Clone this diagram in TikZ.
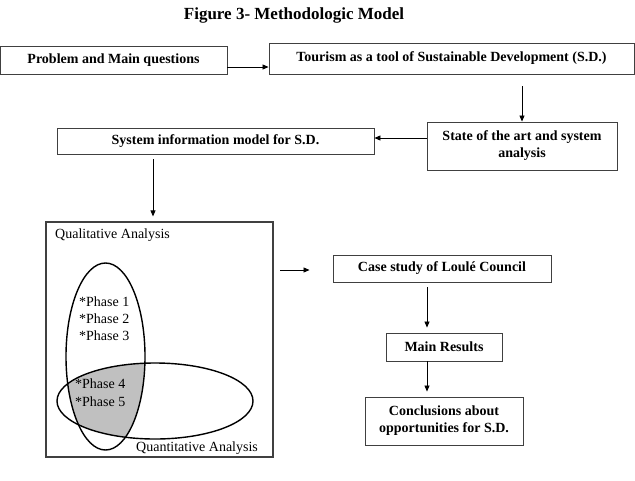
\documentclass[tikz,border=0pt]{standalone}
\usepackage{fontspec}
\setmainfont{Liberation Serif}
\usetikzlibrary{arrows.meta}
\definecolor{boxgray}{HTML}{404040}
\definecolor{overlap}{HTML}{C0C0C0}
\begin{document}
\begin{tikzpicture}[x=1pt,y=-1pt,
  box/.style={draw=boxgray,line width=0.9pt,inner sep=0pt,font=\fontsize{14}{17}\selectfont\bfseries,align=center},
  arr/.style={-{Triangle[length=6pt,width=5pt]},line width=0.8pt},
  intext/.style={anchor=west,inner sep=0pt,font=\fontsize{14}{17}\selectfont},
  venn/.style={line width=1.4pt}]
\useasboundingbox (0,0) rectangle (635,480);

\node[font=\fontsize{17}{20}\selectfont\bfseries] (title) at (294,15) {Figure 3- Methodologic Model};

\node[box,minimum width=227pt,minimum height=28pt] (b1) at (113.5,60) {Problem and Main questions};
\node[box,minimum width=365pt,minimum height=31pt] (b2) at (451.5,58.5) {Tourism as a tool of Sustainable Development (S.D.)};
\node[box,minimum width=190pt,minimum height=48pt] (st) at (522,146) {State of the art and system\\analysis};
\node[box,minimum width=317pt,minimum height=26pt] (sys) at (215.5,141) {System information model for S.D.};
\node[draw=boxgray,line width=1.2pt,minimum width=227pt,minimum height=235pt,inner sep=0pt] (sq) at (159.5,339.5) {};
\node[box,minimum width=218pt,minimum height=27pt] (case) at (442,268.5) {Case study of Loulé Council};
\node[box,minimum width=116pt,minimum height=28pt] (main) at (444,347) {Main Results};
\node[box,minimum width=158pt,minimum height=48pt] (concl) at (444,421) {Conclusions about\\opportunities for S.D.};

% Venn diagram
\begin{scope}
  \clip (105.5,356.5) ellipse [x radius=39.5, y radius=93.5];
  \fill[overlap] (155,401) ellipse [x radius=98, y radius=38];
\end{scope}
\draw[venn] (105.5,356.5) ellipse [x radius=39.5, y radius=93.5];
\draw[venn] (155,401) ellipse [x radius=98, y radius=38];

\node[intext] (qual) at (55,235) {Qualitative Analysis};
\node[intext] (ph1) at (79,302) {*Phase 1};
\node[intext] (ph2) at (79,319) {*Phase 2};
\node[intext] (ph3) at (79,336) {*Phase 3};
\node[intext] (ph4) at (75,384) {*Phase 4};
\node[intext] (ph5) at (75,402) {*Phase 5};
\node[intext] (quant) at (136,448) {Quantitative Analysis};

% connectors
\draw[arr] (b1.east |- 0,67) -- (b2.west |- 0,67);
\draw[arr,shorten <=12pt] (b2.south -| st.north) -- (st.north);
\draw[arr] (st.west |- 0,138) -- (sys.east |- 0,138);
\draw[arr,shorten <=5pt,shorten >=5pt] (sys.south -| 153,0) -- (sq.north -| 153,0);
\coordinate (sqout) at (280,270);
\draw[arr,shorten >=23pt] (sqout) -- (case.west |- sqout);
\draw[arr,shorten <=5pt,shorten >=5pt] (case.south -| 427,0) -- (main.north -| 427,0);
\draw[arr,shorten >=5pt] (main.south -| 427,0) -- (concl.north -| 427,0);
\end{tikzpicture}
\end{document}
